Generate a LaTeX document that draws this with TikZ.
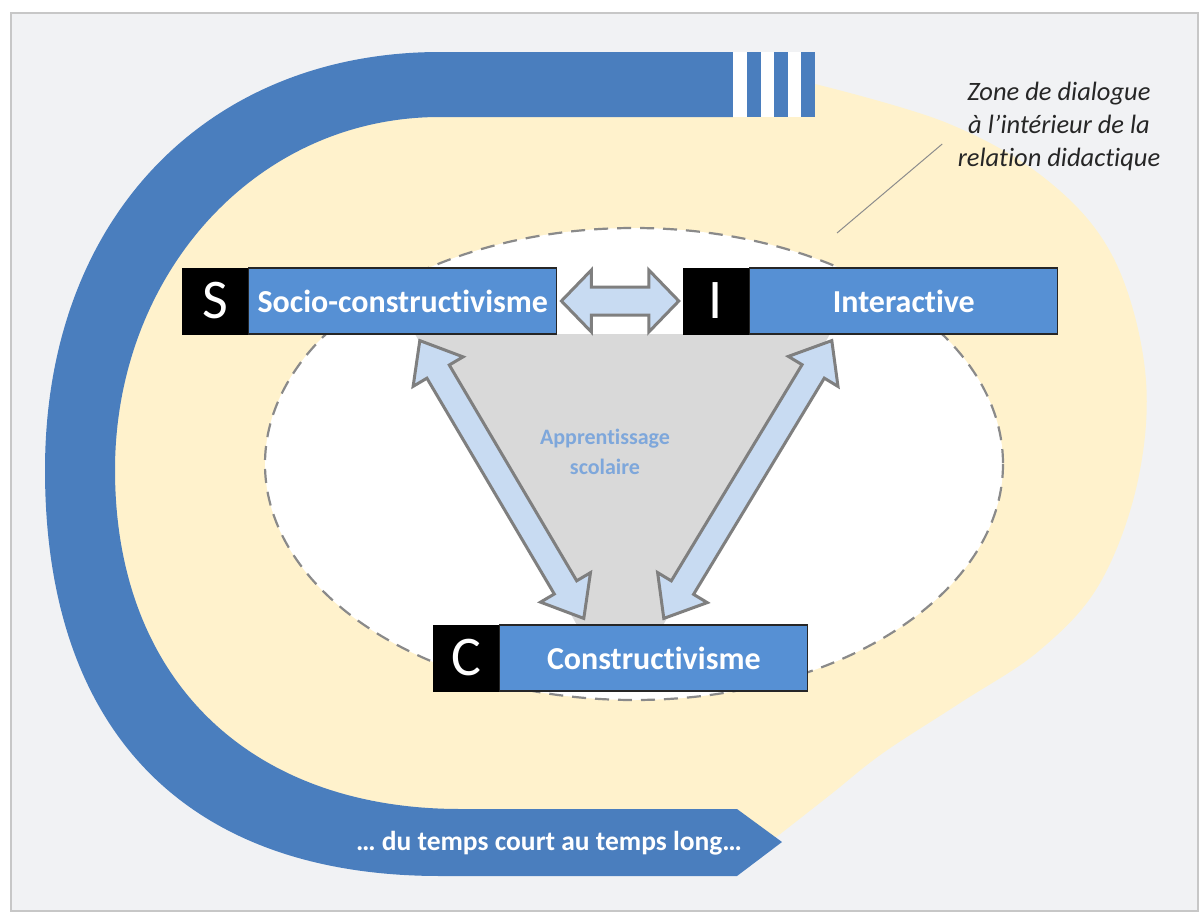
\documentclass[tikz,border=0pt]{standalone}
\usepackage{fontspec}
\setmainfont{Carlito}[Ligatures=NoCommon]
\usepackage{tikz}
\usetikzlibrary{calc,positioning}

\definecolor{bandblue}{HTML}{4A7EBE}
\definecolor{boxblue}{HTML}{5690D4}
\definecolor{zoneyellow}{HTML}{FFF2CC}
\definecolor{bggray}{HTML}{F1F2F4}
\definecolor{dashgray}{HTML}{8A8A8A}
\definecolor{arrowfill}{HTML}{C8DBF2}
\definecolor{arrowline}{HTML}{7F7F7F}
\definecolor{trigray}{HTML}{D9D9D9}
\definecolor{learnblue}{HTML}{7EA7DB}

% fat double arrow between two named points: head length, head half width, shaft half width
\newcommand{\fatarrow}[5]{%
  \coordinate (h1) at ($(#1)!#3!(#2)$);
  \coordinate (h2) at ($(#2)!#3!(#1)$);
  \filldraw[fatarrow] (#1) -- ($(h1)!#4!90:(#2)$) -- ($(h1)!#5!90:(#2)$)
    -- ($(h2)!#5!-90:(#1)$) -- ($(h2)!#4!-90:(#1)$) -- (#2)
    -- ($(h2)!#4!90:(#1)$) -- ($(h2)!#5!90:(#1)$)
    -- ($(h1)!#5!-90:(#2)$) -- ($(h1)!#4!-90:(#2)$) -- cycle;}

\begin{document}
\begin{tikzpicture}[
  x=1pt, y=-1pt,
  letterbox/.style={fill=black, draw=black, text=white, inner sep=0pt,
    minimum width=66pt, minimum height=66pt, font=\fontsize{56}{60}\selectfont},
  labelbox/.style={fill=boxblue, draw=black!85, line width=1.2pt, text=white,
    inner sep=0pt, minimum width=308pt, minimum height=66pt,
    font=\fontsize{32}{36}\selectfont\bfseries},
  fatarrow/.style={fill=arrowfill, draw=arrowline, line width=3pt},
  ring/.style={fill=white, draw=dashgray, line width=2.2pt, dash pattern=on 14pt off 9pt},
  leader/.style={draw=black!45, line width=1pt},
  bandtext/.style={text=white, font=\fontsize{27.5}{30}\selectfont\bfseries},
  zonetext/.style={align=center, text=black!85, font=\fontsize{26.5}{33}\selectfont\itshape},
  learntext/.style={align=center, text=learnblue, font=\fontsize{22}{30}\selectfont\bfseries},
]
\useasboundingbox (0,0) rectangle (1203,913);

% --- frame ---
\fill[white] (0,0) rectangle (1203,913);
\filldraw[fill=bggray, draw=black!22, line width=1.5pt] (11,13) rectangle (1198,911);

% --- zone de dialogue (yellow blob, under the band) ---
\fill[zoneyellow] (440,84) -- plot[smooth, tension=0.6] coordinates {(815,84) (947,123)
  (1047,180) (1113,257) (1145,370) (1138,480) (1100,583) (1040,650) (960,703)
  (883,753) (830,795) (770,842)} -- (440,842)
  .. controls (220,842) and (80,710) .. (80,470)
  .. controls (80,245) and (230,84) .. (440,84) -- cycle;

% --- time band ---
\fill[bandblue] (733,52) -- (440,52) .. controls (210,52) and (45,215) .. (45,470)
  .. controls (45,735) and (190,876) .. (440,876) -- (737,876) -- (782,842)
  -- (737,809) -- (460,809) .. controls (250,809) and (115,680) .. (115,470)
  .. controls (115,275) and (255,117) .. (440,117) -- (733,117) -- cycle;
\fill[white] (733,52) rectangle (801,117);
\foreach \x in {747,774,801}
  \fill[bandblue] (\x,52) rectangle +(14,65);
\node[bandtext] (time) at (549,843) {… du temps court au temps long…};

% --- relation didactique ---
\draw[ring] (634,464) ellipse [x radius=369, y radius=236];
\fill[trigray] (415,334) -- (830,334) -- (662,627) -- (578,627) -- cycle;
\node[learntext] (learn) at (605,452) {Apprentissage\\scolaire};

% --- poles ---
\node[letterbox] (S) at (215,301) {S};
\node[labelbox, right=0pt of S] (socio) {Socio-constructivisme};
\node[letterbox] (I) at (716,301) {I};
\node[labelbox, right=0pt of I] (inter) {Interactive};
\node[letterbox] (C) at (466,658) {C};
\node[labelbox, right=0pt of C] (constr) {Constructivisme};

% --- links ---
\coordinate (ha) at ([xshift=4pt]socio.east);
\coordinate (hb) at ([xshift=-4pt]I.west);
\coordinate (la) at ([shift={(17,6)}]socio.south);
\coordinate (lb) at ([shift={(-70,-6)}]constr.north);
\coordinate (ra) at ([shift={(-72,6)}]inter.south);
\coordinate (rb) at ([shift={(10,-6)}]constr.north);
\fatarrow{ha}{hb}{30pt}{31pt}{14pt}
\fatarrow{la}{lb}{36pt}{29pt}{13pt}
\fatarrow{ra}{rb}{36pt}{29pt}{13pt}

% --- annotation ---
\node[zonetext] (zone) at (1059,126) {Zone de dialogue\\à l’intérieur de la\\relation didactique};
\coordinate (zfoot) at (837,233);
\draw[leader] ([shift={(-12,18)}]zone.west) -- (zfoot);

\end{tikzpicture}
\end{document}
